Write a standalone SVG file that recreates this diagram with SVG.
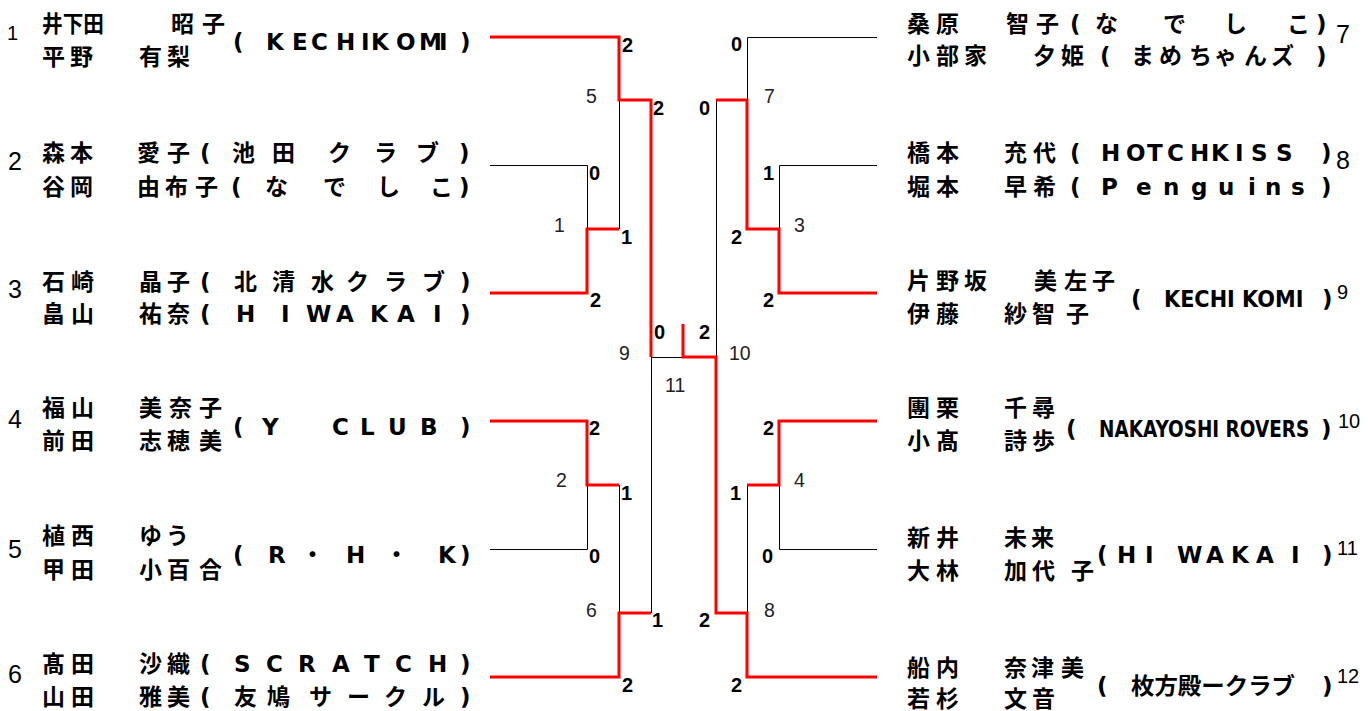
<svg xmlns="http://www.w3.org/2000/svg" width="1368" height="711" viewBox="0 0 1368 711">
<style>
.nm{font-family:"DejaVu Sans","Noto Sans CJK JP","Noto Sans CJK SC",sans-serif;font-weight:bold;font-size:23px;fill:#000}
.sc{font-family:"Liberation Sans",Arial,sans-serif;font-weight:bold;font-size:20px;fill:#000}
.mn{font-family:"Liberation Sans",Arial,sans-serif;font-size:19.5px;fill:#222}
.en{font-family:"Liberation Sans",Arial,sans-serif;font-size:25px;fill:#000}
.en2{font-family:"Liberation Sans",Arial,sans-serif;font-size:20px;fill:#000}
.bk{fill:none;stroke:#000;stroke-width:1}
.rd{fill:none;stroke:#f00;stroke-width:3}
</style>
<rect width="1368" height="711" fill="#fff"/>
<g id="connectors">
<path class="bk" d="M877 37.5H747.5V100"/>
<path class="bk" d="M877 165.5H779.5V229"/>
<path class="bk" d="M490 165.5H587.5V229"/>
<path class="bk" d="M619.5 100V229"/>
<path class="bk" d="M716.5 100V357"/>
<path class="bk" d="M651.5 357V613"/>
<path class="bk" d="M651 357.5H683"/>
<path class="bk" d="M490 549.5H587.5V485"/>
<path class="bk" d="M619.5 485V613"/>
<path class="bk" d="M877 549.5H779.5V485"/>
<path class="bk" d="M747.5 485V613"/>
<path class="rd" d="M490 37H619V100H651V357"/>
<path class="rd" d="M490 293H587V229H619"/>
<path class="rd" d="M490 421H587V485H619"/>
<path class="rd" d="M490 677H619V613H651"/>
<path class="rd" d="M683 324V357H716V613H747V677H877"/>
<path class="rd" d="M716 100H747V229H779V293H877"/>
<path class="rd" d="M877 421H779V485H747"/>
</g>
<g id="scores">
<text class="sc" x="622" y="52">2</text>
<text class="sc" x="653" y="115">2</text>
<text class="sc" x="589" y="180">0</text>
<text class="sc" x="621" y="244">1</text>
<text class="sc" x="590" y="307">2</text>
<text class="sc" x="654" y="339">0</text>
<text class="sc" x="699" y="339">2</text>
<text class="sc" x="589" y="435">2</text>
<text class="sc" x="621" y="500">1</text>
<text class="sc" x="589" y="563">0</text>
<text class="sc" x="652" y="627">1</text>
<text class="sc" x="622" y="692">2</text>
<text class="sc" x="731" y="51">0</text>
<text class="sc" x="699" y="115">0</text>
<text class="sc" x="763" y="180">1</text>
<text class="sc" x="731" y="244">2</text>
<text class="sc" x="763" y="307">2</text>
<text class="sc" x="763" y="435">2</text>
<text class="sc" x="730" y="500">1</text>
<text class="sc" x="762" y="563">0</text>
<text class="sc" x="699" y="627">2</text>
<text class="sc" x="731" y="692">2</text>
</g>
<g id="match-numbers">
<text class="mn" x="586" y="103">5</text>
<text class="mn" x="554" y="232">1</text>
<text class="mn" x="556" y="487">2</text>
<text class="mn" x="586" y="617">6</text>
<text class="mn" x="619" y="360">9</text>
<text class="mn" x="665" y="392">11</text>
<text class="mn" x="764" y="103">7</text>
<text class="mn" x="794" y="232">3</text>
<text class="mn" x="729" y="360">10</text>
<text class="mn" x="794" y="487">4</text>
<text class="mn" x="764" y="617">8</text>
</g>
<g id="entry-1">
<text class="en2" x="7" y="40">1</text>
<text class="nm" x="42" y="32" textLength="62" lengthAdjust="spacingAndGlyphs">井下田</text>
<text class="nm" x="171 202" y="32">昭子</text>
<text class="nm" x="42 70 105 139 167" y="65">平野　有梨</text>
<text class="nm" x="233 266 292 311 336 361 366 371 396 419 439 460" y="50">(KECHI KOMI)</text>
</g>
<g id="entry-2">
<text class="en" x="8" y="170">2</text>
<text class="nm" x="42 70 105 137 167 200 232 272 328 374 416 459" y="161">森本　愛子(池田クラブ)</text>
<text class="nm" x="42 70 105 137 165 195 231 265 323 377 430 459" y="195">谷岡　由布子(なでしこ)</text>
</g>
<g id="entry-3">
<text class="en" x="8" y="298">3</text>
<text class="nm" x="42 71 105 139 167 200 234 272 311 346 384 422 460" y="290">石崎　晶子(北清水クラブ)</text>
<text class="nm" x="42 71 105 139 167 200 236 281 306 336 370 397 433 460" y="322">畠山　祐奈(HIWAKAI)</text>
</g>
<g id="entry-4">
<text class="en" x="8" y="428" font-size="23">4</text>
<text class="nm" x="42 71 105 139 169 199" y="416">福山　美奈子</text>
<text class="nm" x="42 71 105 139 167 199" y="449">前田　志穂美</text>
<text class="nm" x="233 262 300 332 360 388 420 460" y="435">(Y CLUB)</text>
</g>
<g id="entry-5">
<text class="en" x="8" y="558" font-size="23">5</text>
<text class="nm" x="42 71 105 139 166" y="544">植西　ゆう</text>
<text class="nm" x="42 71 105 139 167 199" y="578">甲田　小百合</text>
<text class="nm" x="233 268 301 346 385 438 460" y="563">(R・H・K)</text>
</g>
<g id="entry-6">
<text class="en" x="8" y="683">6</text>
<text class="nm" x="42 71 105 139 167 200 234 266 298 332 364 395 428 460" y="672">髙田　沙織(SCRATCH)</text>
<text class="nm" x="42 71 105 139 167 200 234 267 309 347 384 422 460" y="705">山田　雅美(友鳩サークル)</text>
</g>
<g id="entry-7">
<text class="nm" x="907 936 970 1006 1036 1070 1095 1163 1224 1287 1316" y="32">桑原　智子(なでしこ)</text>
<text class="nm" x="907 936 964 1000 1033 1061 1100 1131 1159 1189 1214 1244 1271 1316" y="64">小部家　夕姫(まめちゃんズ)</text>
<text class="en" x="1336" y="43">7</text>
</g>
<g id="entry-8">
<text class="nm" x="907 936 970 1004 1033 1070 1101 1126 1147 1167 1190 1211 1235 1251 1276 1321" y="161">橋本　充代(HOTCHKISS)</text>
<text class="nm" x="907 936 970 1004 1033 1070 1101 1136 1163 1191 1218 1248 1265 1291 1321" y="195">堀本　早希(Penguins)</text>
<text class="en" x="1336" y="169">8</text>
</g>
<g id="entry-9">
<text class="nm" x="907 936 964 995 1034 1064 1092" y="289">片野坂　美左子</text>
<text class="nm" x="907 936 970 1004 1032 1066" y="322">伊藤　紗智子</text>
<text class="nm" x="1131" y="307">(</text>
<text class="nm" transform="translate(1164 307) scale(0.9 1)" textLength="155" lengthAdjust="spacingAndGlyphs">KECHI KOMI</text>
<text class="nm" x="1322" y="307">)</text>
<text class="en2" x="1337" y="299" font-size="19">9</text>
</g>
<g id="entry-10">
<text class="nm" x="907 936 970 1004 1032" y="416">團栗　千尋</text>
<text class="nm" x="907 936 970 1004 1032" y="449">小髙　詩歩</text>
<text class="nm" x="1066" y="437">(</text>
<text class="nm" transform="translate(1099 437) scale(0.79 1)" textLength="266" lengthAdjust="spacingAndGlyphs">NAKAYOSHI ROVERS</text>
<text class="nm" x="1321" y="437">)</text>
<text class="en2" x="1338" y="428" font-size="19">10</text>
</g>
<g id="entry-11">
<text class="nm" x="907 936 970 1004 1031" y="546">新井　未来</text>
<text class="nm" x="907 936 970 1004 1032 1071" y="579">大林　加代子</text>
<text class="nm" x="1097 1117 1145 1160 1177 1206 1231 1256 1291 1322" y="563">(HI WAKAI)</text>
<text class="en2" x="1337" y="555">11</text>
</g>
<g id="entry-12">
<text class="nm" x="907 936 970 1004 1031 1061" y="676">船内　奈津美</text>
<text class="nm" x="907 936 970 1004 1032" y="707">若杉　文音</text>
<text class="nm" x="1097" y="694">(</text>
<text class="nm" x="1131" y="694" textLength="164" lengthAdjust="spacingAndGlyphs">枚方殿ークラブ</text>
<text class="nm" x="1322" y="694">)</text>
<text class="en2" x="1337" y="683" font-size="19">12</text>
</g>
</svg>
